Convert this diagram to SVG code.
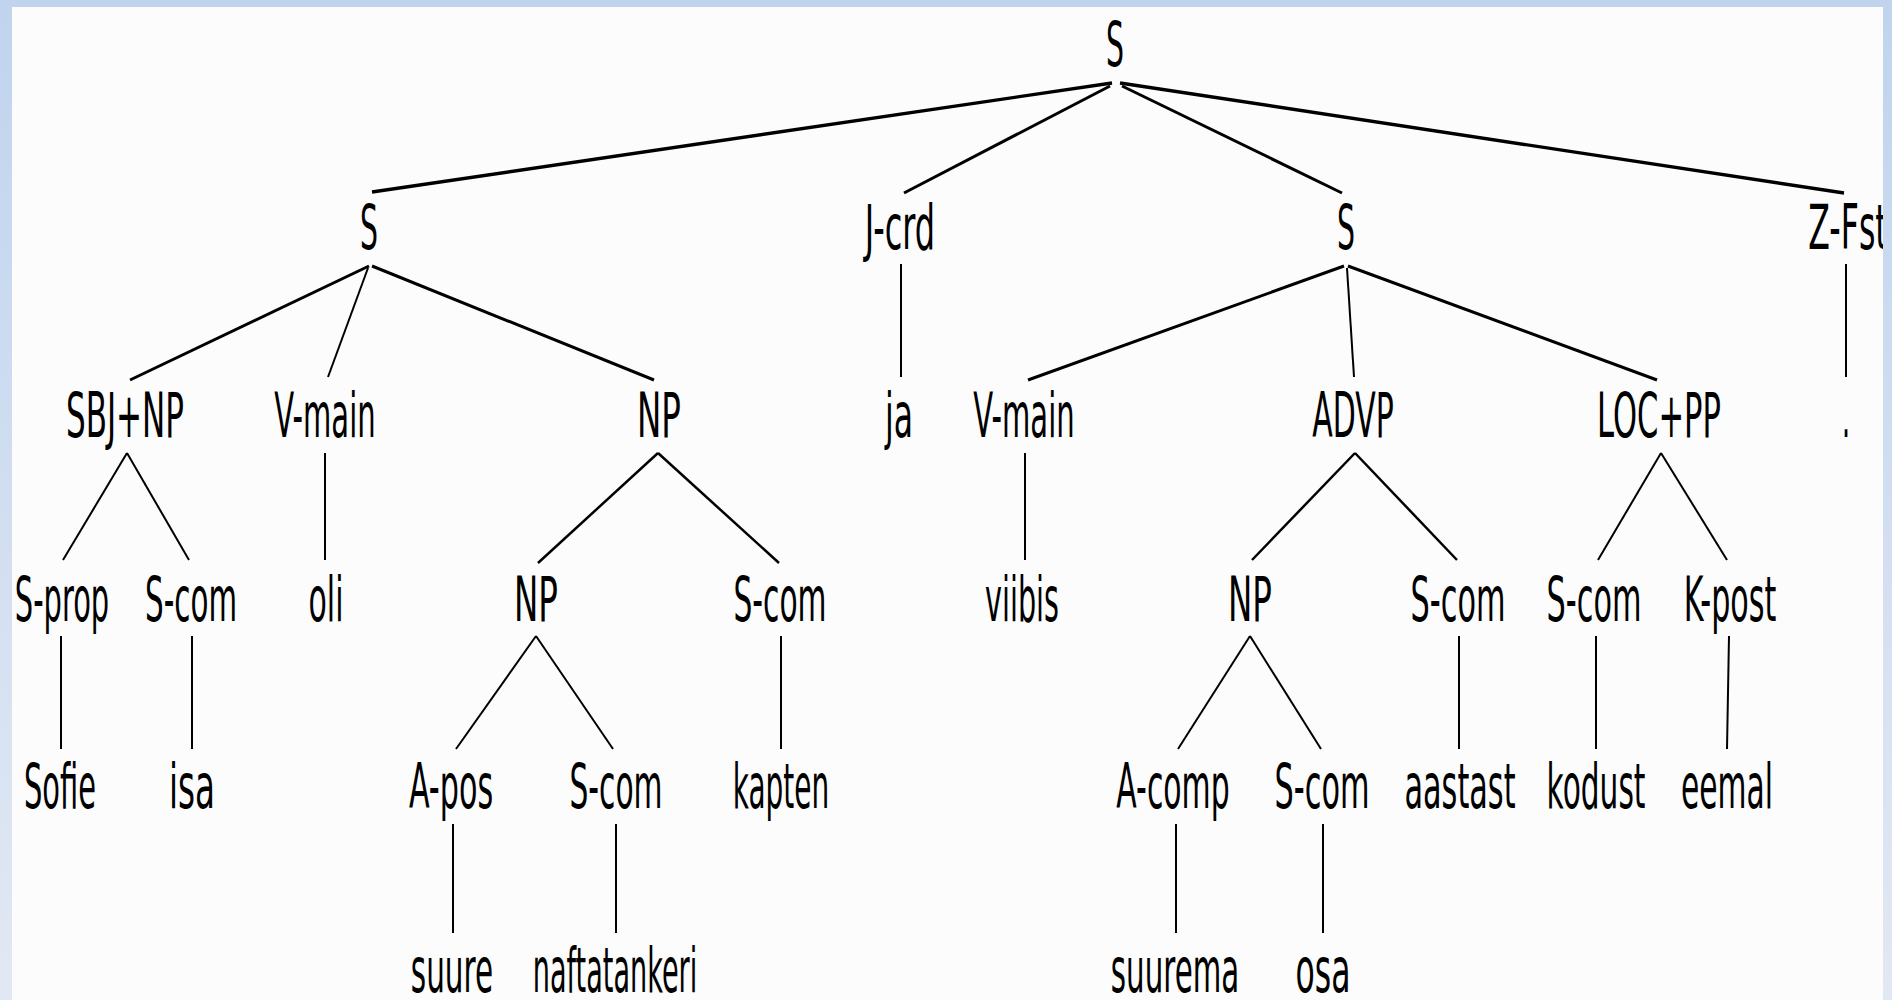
<svg xmlns="http://www.w3.org/2000/svg" width="1892" height="1000" viewBox="0 0 1892 1000">
  <defs>
    <linearGradient id="frameFill" x1="0" y1="0" x2="0" y2="1">
      <stop offset="0" stop-color="#c0d4ee"/>
      <stop offset="1" stop-color="#e2e8f3"/>
    </linearGradient>
    <style>
      text { font-family: "DejaVu Sans", "Liberation Sans", sans-serif; font-size: 62px; fill: #000; text-anchor: middle; }
      .edges line { stroke: #000; stroke-linecap: butt; fill: none; }
      .w34 { stroke-width: 3.4; }
      .w30 { stroke-width: 3; }
      .w25 { stroke-width: 2.5; }
      .w20 { stroke-width: 2; }
    </style>
  </defs>

  <!-- window frame and canvas -->
  <rect x="0" y="0" width="1892" height="1000" fill="url(#frameFill)"/>
  <rect x="12" y="7" width="1871" height="993" fill="#fcfcfc"/>

  <!-- tree edges -->
  <g id="connectors" class="edges">
    <!-- root S -->
    <line class="w34" x1="1112" y1="83" x2="372" y2="192"/>
    <line class="w30" x1="1110" y1="86" x2="904" y2="193"/>
    <line class="w30" x1="1122" y1="86" x2="1342" y2="193"/>
    <line class="w34" x1="1120" y1="83" x2="1844" y2="193"/>
    <!-- left S -->
    <line class="w30" x1="369" y1="266" x2="130" y2="380"/>
    <line class="w20" x1="368" y1="268" x2="328" y2="377"/>
    <line class="w30" x1="372" y1="266" x2="654" y2="380"/>
    <!-- J-crd -->
    <line class="w20" x1="901" y1="264" x2="901" y2="377"/>
    <!-- right S -->
    <line class="w30" x1="1344" y1="266" x2="1028" y2="380"/>
    <line class="w20" x1="1347" y1="268" x2="1354" y2="377"/>
    <line class="w30" x1="1348" y1="266" x2="1657" y2="380"/>
    <!-- Z-Fst -->
    <line class="w20" x1="1846" y1="264" x2="1846" y2="377"/>
    <!-- phrase level -->
    <line class="w20" x1="127" y1="453" x2="63" y2="560"/>
    <line class="w20" x1="127" y1="453" x2="189" y2="560"/>
    <line class="w20" x1="325" y1="453" x2="325" y2="560"/>
    <line class="w25" x1="658" y1="453" x2="538" y2="563"/>
    <line class="w25" x1="658" y1="453" x2="779" y2="563"/>
    <line class="w20" x1="1025" y1="453" x2="1025" y2="560"/>
    <line class="w25" x1="1355" y1="453" x2="1252" y2="560"/>
    <line class="w25" x1="1355" y1="453" x2="1457" y2="560"/>
    <line class="w20" x1="1661" y1="453" x2="1598" y2="560"/>
    <line class="w20" x1="1661" y1="453" x2="1727" y2="560"/>
    <!-- word level -->
    <line class="w20" x1="61" y1="636" x2="61" y2="749"/>
    <line class="w20" x1="192" y1="636" x2="192" y2="749"/>
    <line class="w20" x1="536" y1="636" x2="456" y2="749"/>
    <line class="w20" x1="536" y1="636" x2="613" y2="749"/>
    <line class="w20" x1="781" y1="636" x2="781" y2="749"/>
    <line class="w20" x1="1250" y1="636" x2="1178" y2="749"/>
    <line class="w20" x1="1250" y1="636" x2="1321" y2="749"/>
    <line class="w20" x1="1459" y1="636" x2="1459" y2="749"/>
    <line class="w20" x1="1596" y1="636" x2="1596" y2="749"/>
    <line class="w20" x1="1729" y1="636" x2="1727" y2="749"/>
    <!-- lowest level -->
    <line class="w20" x1="453" y1="824" x2="453" y2="933"/>
    <line class="w20" x1="616" y1="824" x2="616" y2="933"/>
    <line class="w20" x1="1176" y1="824" x2="1176" y2="933"/>
    <line class="w20" x1="1323" y1="824" x2="1323" y2="933"/>
  </g>

  <!-- labels are set in a horizontally condensed face: translate to anchor, then squeeze -->
  <!-- level 0 -->
  <g id="n-root"><text transform="translate(1115 66) scale(0.457 1)">S</text></g>

  <!-- level 1 -->
  <g id="n-s1"><text transform="translate(369 249) scale(0.457 1)">S</text></g>
  <g id="n-jcrd"><text transform="translate(900 249) scale(0.516 1)">J-crd</text></g>
  <g id="n-s2"><text transform="translate(1346 249) scale(0.457 1)">S</text></g>
  <g id="n-zfst"><text transform="translate(1848 249) scale(0.509 1)">Z-Fst</text></g>

  <!-- level 2 -->
  <g id="n-sbjnp"><text transform="translate(125 437) scale(0.500 1)">SBJ+NP</text></g>
  <g id="n-vmain1"><text transform="translate(325 437) scale(0.469 1)">V-main</text></g>
  <g id="n-np1"><text transform="translate(659 437) scale(0.525 1)">NP</text></g>
  <g id="n-ja"><text transform="translate(899 437) scale(0.507 1)">ja</text></g>
  <g id="n-vmain2"><text transform="translate(1024 437) scale(0.469 1)">V-main</text></g>
  <g id="n-advp"><text transform="translate(1353 437) scale(0.483 1)">ADVP</text></g>
  <g id="n-locpp"><text transform="translate(1659 437) scale(0.493 1)">LOC+PP</text></g>
  <g id="n-dot"><text transform="translate(1846 437) scale(0.41 1)">.</text></g>

  <!-- level 3 -->
  <g id="n-sprop"><text transform="translate(62 621) scale(0.466 1)">S-prop</text></g>
  <g id="n-scom1"><text transform="translate(191 621) scale(0.474 1)">S-com</text></g>
  <g id="n-oli"><text transform="translate(326 621) scale(0.483 1)">oli</text></g>
  <g id="n-np2"><text transform="translate(536 621) scale(0.525 1)">NP</text></g>
  <g id="n-scom2"><text transform="translate(780 621) scale(0.479 1)">S-com</text></g>
  <g id="n-viibis"><text transform="translate(1022 621) scale(0.462 1)">viibis</text></g>
  <g id="n-np3"><text transform="translate(1250 621) scale(0.525 1)">NP</text></g>
  <g id="n-scom3"><text transform="translate(1458 621) scale(0.489 1)">S-com</text></g>
  <g id="n-scom4"><text transform="translate(1594 621) scale(0.489 1)">S-com</text></g>
  <g id="n-kpost"><text transform="translate(1730 621) scale(0.487 1)">K-post</text></g>

  <!-- level 4 -->
  <g id="n-sofie"><text transform="translate(60 808) scale(0.466 1)">Sofie</text></g>
  <g id="n-isa"><text transform="translate(192 808) scale(0.526 1)">isa</text></g>
  <g id="n-apos"><text transform="translate(451 808) scale(0.487 1)">A-pos</text></g>
  <g id="n-scom5"><text transform="translate(616 808) scale(0.479 1)">S-com</text></g>
  <g id="n-kapten"><text transform="translate(781 808) scale(0.451 1)">kapten</text></g>
  <g id="n-acomp"><text transform="translate(1173 808) scale(0.482 1)">A-comp</text></g>
  <g id="n-scom6"><text transform="translate(1322 808) scale(0.489 1)">S-com</text></g>
  <g id="n-aastast"><text transform="translate(1460 808) scale(0.489 1)">aastast</text></g>
  <g id="n-kodust"><text transform="translate(1596 808) scale(0.478 1)">kodust</text></g>
  <g id="n-eemal"><text transform="translate(1727 808) scale(0.479 1)">eemal</text></g>

  <!-- level 5 -->
  <g id="n-suure"><text transform="translate(452 992) scale(0.476 1)">suure</text></g>
  <g id="n-naftatankeri"><text transform="translate(615 992) scale(0.437 1)">naftatankeri</text></g>
  <g id="n-suurema"><text transform="translate(1175 992) scale(0.473 1)">suurema</text></g>
  <g id="n-osa"><text transform="translate(1323 992) scale(0.508 1)">osa</text></g>

  <!-- right frame edge drawn over the clipped label -->
  <rect x="1883" y="0" width="9" height="1000" fill="url(#frameFill)"/>
</svg>
